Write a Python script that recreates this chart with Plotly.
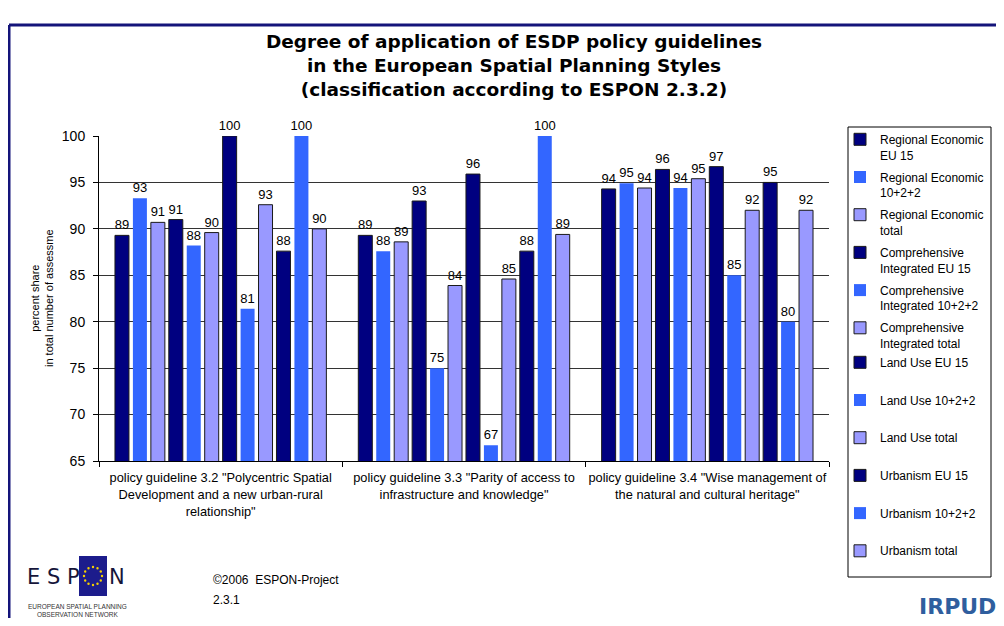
import math

import plotly.graph_objects as go

# categories (three policy guidelines)
guidelines = [
    'policy guideline 3.2 "Polycentric Spatial<br>Development and a new urban-rural<br>relationship"',
    'policy guideline 3.3 "Parity of access to<br>infrastructure and knowledge"',
    'policy guideline 3.4 "Wise management of<br>the natural and cultural heritage"',
]

# series values (percent share)
regional_eu15 = [89.3, 89.3, 94.3]
regional_new = [93.3, 87.6, 94.9]
regional_total = [90.7, 88.6, 94.4]
comprehensive_eu15 = [91.0, 93.0, 96.4]
comprehensive_new = [88.2, 75.0, 94.4]
comprehensive_total = [89.6, 83.9, 95.4]
landuse_eu15 = [100.0, 95.9, 96.7]
landuse_new = [81.4, 66.7, 85.0]
landuse_total = [92.6, 84.6, 92.0]
urbanism_eu15 = [87.6, 87.6, 95.0]
urbanism_new = [100.0, 100.0, 80.0]
urbanism_total = [90.0, 89.4, 92.0]

series_names = [
    "Regional Economic<br>EU 15",
    "Regional Economic<br>10+2+2",
    "Regional Economic<br>total",
    "Comprehensive<br>Integrated EU 15",
    "Comprehensive<br>Integrated 10+2+2",
    "Comprehensive<br>Integrated total",
    "Land Use EU 15<br> ",
    "Land Use 10+2+2<br> ",
    "Land Use total<br> ",
    "Urbanism EU 15<br> ",
    "Urbanism 10+2+2<br> ",
    "Urbanism total<br> ",
]
series_values = [
    regional_eu15, regional_new, regional_total,
    comprehensive_eu15, comprehensive_new, comprehensive_total,
    landuse_eu15, landuse_new, landuse_total,
    urbanism_eu15, urbanism_new, urbanism_total,
]

NAVY = "#000080"
BLUE = "#3366FF"
LAV = "#9999FF"
FONT = "Liberation Sans, Arial, sans-serif"

# page has an 8px body margin; figure sized to fit the window without scrolling
OFF = 8
W, H = 1004 - 2 * OFF, 626 - 2 * OFF
# plot area in screen pixels
L, R, T, B = 99, 829, 136, 461


def px(x):
    return (x - L) / (R - L)


def py(y):
    return (B - y) / (B - T)


fig = go.Figure()
for i, (name, vals) in enumerate(zip(series_names, series_values)):
    kind = i % 3
    color = [NAVY, BLUE, LAV][kind]
    line_w = 0 if kind == 1 else 1
    fig.add_trace(
        go.Bar(
            x=guidelines,
            y=vals,
            name=name,
            legend="legend" if i < 6 else "legend2",
            legendgroup=f"g{i}",
            marker=dict(color=color, line=dict(color="#1a1a1a", width=line_w)),
            texttemplate="%{y:.0f}",
            textposition="outside",
            textfont=dict(family=FONT, size=13, color="black"),
            constraintext="none",
            cliponaxis=False,
            hovertemplate="%{y:.1f}<extra></extra>",
        )
    )

shapes = [
    # outer frame (left and top edges)
    dict(type="line", xref="paper", yref="paper", x0=px(9), x1=px(9), y0=py(25), y1=py(640),
         line=dict(color="#14147a", width=3)),
    dict(type="line", xref="paper", yref="paper", x0=px(9), x1=px(1010), y0=py(25), y1=py(25),
         line=dict(color="#14147a", width=3)),
    # legend box
    dict(type="rect", xref="paper", yref="paper", x0=px(848), x1=px(991), y0=py(577), y1=py(127),
         line=dict(color="black", width=1), fillcolor="rgba(0,0,0,0)"),
    # ESPON flag square
    dict(type="rect", xref="paper", yref="paper", x0=px(79), x1=px(107), y0=py(596), y1=py(556),
         fillcolor="#1c1c8c", line=dict(width=0)),
]
# stars of the flag
for k in range(12):
    a = 2 * math.pi * k / 12
    cx = 93 + 9 * math.cos(a)
    cy = 576 + 9 * math.sin(a)
    shapes.append(
        dict(type="circle", xref="paper", yref="paper", x0=px(cx - 1.2), x1=px(cx + 1.2),
             y0=py(cy + 1.2), y1=py(cy - 1.2), fillcolor="#f5d000", line=dict(width=0))
    )


def note(text, x, y, size, xanchor="center", family=FONT, color="black", **kw):
    return dict(text=text, x=px(x), y=py(y), xref="paper", yref="paper", xanchor=xanchor,
                yanchor="middle", showarrow=False, font=dict(family=family, size=size, color=color),
                **kw)


LOGO_FONT = "DejaVu Sans, sans-serif"
annotations = [
    note("percent share<br>in total number of assessme", 42, 298, 11, textangle=-90),
    note("E S P", 25, 577, 21, xanchor="left", family=LOGO_FONT, color="#15153a"),
    note("N", 107, 577, 21, xanchor="left", family=LOGO_FONT, color="#15153a"),
    note("EUROPEAN SPATIAL PLANNING<br>OBSERVATION NETWORK", 77, 610, 6.5, color="#333333"),
    note("©2006  ESPON-Project", 211, 580, 12, xanchor="left"),
    note("2.3.1", 211, 600, 12, xanchor="left"),
    note("<b>IRPUD</b>", 957, 606, 22, family=LOGO_FONT, color="#2f5e9e"),
]

legend_style = dict(
    xanchor="left",
    yanchor="top",
    bgcolor="rgba(0,0,0,0)",
    borderwidth=0,
    font=dict(family=FONT, size=12, color="black"),
    valign="top",
    itemwidth=30,
    tracegroupgap=3.5,
    traceorder="grouped",
)

fig.update_layout(
    width=W,
    height=H,
    margin=dict(l=L - OFF, r=W - (R - OFF), t=T - OFF, b=H - (B - OFF), autoexpand=False),
    paper_bgcolor="white",
    plot_bgcolor="white",
    barmode="group",
    bargap=0.115,
    bargroupgap=0.22,
    title=dict(
        text="Degree of application of ESDP policy guidelines<br>in the European Spatial Planning Styles"
        "<br>(classification according to ESPON 2.3.2)",
        x=(514 - OFF) / W,
        xanchor="center",
        xref="container",
        y=1 - 40 / H,
        yanchor="top",
        yref="container",
        font=dict(family="DejaVu Sans, Verdana, sans-serif", size=18.5, color="black", weight="bold"),
    ),
    showlegend=True,
    legend=dict(x=px(840), y=py(125), **legend_style),
    legend2=dict(x=px(840), y=py(348), **legend_style),
    shapes=shapes,
    annotations=annotations,
)
fig.update_yaxes(
    range=[65, 100],
    dtick=5,
    showgrid=True,
    gridcolor="#333333",
    gridwidth=1,
    showline=True,
    linecolor="black",
    linewidth=1,
    ticks="outside",
    ticklen=5,
    tickcolor="black",
    ticklabelstandoff=5,
    tickfont=dict(family=FONT, size=14, color="black"),
    zeroline=False,
)
fig.update_xaxes(
    showline=True,
    linecolor="black",
    linewidth=1,
    ticks="outside",
    ticklen=5,
    tickcolor="black",
    tickson="boundaries",
    tickangle=0,
    ticklabelstandoff=5,
    tickfont=dict(family=FONT, size=12.8, color="black"),
)

fig.write_html("out.html")
